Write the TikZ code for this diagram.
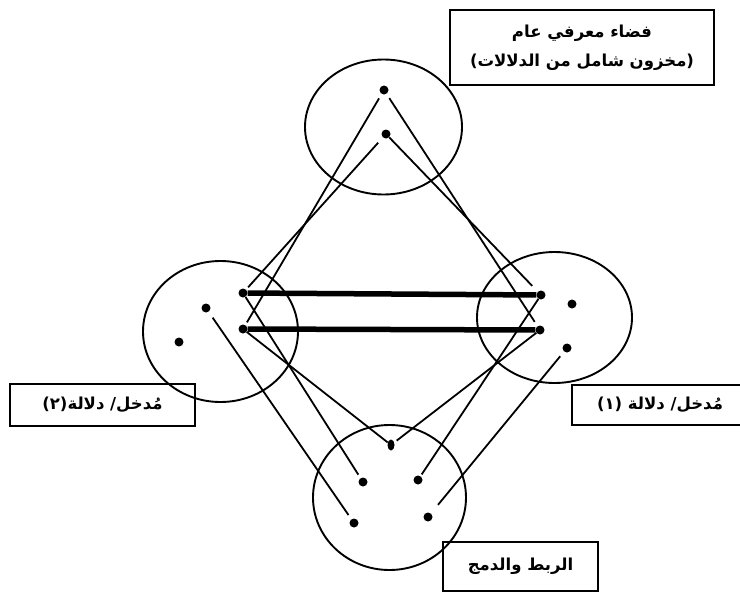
\documentclass[tikz,border=0pt]{standalone}
\usepackage{fontspec}
\usetikzlibrary{shapes.geometric}
\TeXXeTstate=1
\newfontfamily\arabicfont[Script=Arabic]{DejaVu Sans}
\newcommand{\artxt}[1]{\beginR #1\endR}

\begin{document}
\begin{tikzpicture}[x=1pt,y=-1pt,
  ring/.style={ellipse,draw,line width=1.9,inner sep=0},
  dot/.style={ellipse,fill,inner sep=0,minimum width=9,minimum height=9},
  link/.style={line width=1.8},
  bar/.style={line width=5.5},
  tag/.style={draw,line width=1.5,inner sep=0,align=center,
    font=\fontsize{16.5}{29}\selectfont\arabicfont\bfseries}]
  \useasboundingbox (0,0) rectangle (740,592);
  % circles
  \node[ring,minimum width=157,minimum height=135] (store) at (383.5,127) {};
  \node[ring,minimum width=155,minimum height=141] (entryB) at (220.5,331.5) {};
  \node[ring,minimum width=155,minimum height=131] (entryA) at (554.5,317.5) {};
  \node[ring,minimum width=153,minimum height=145] (merge) at (389.5,497.5) {};
  % dots
  \node[dot] (t1) at (384,90) {};
  \node[dot] (t2) at (386,134) {};
  \node[dot] (l1) at (243,293) {};
  \node[dot] (l2) at (243,329) {};
  \node[dot] (l3) at (206,308) {};
  \node[dot] (l4) at (179,342) {};
  \node[dot] (r1) at (541,295) {};
  \node[dot] (r2) at (540,330) {};
  \node[dot] (r3) at (572,304) {};
  \node[dot] (r4) at (567,348) {};
  \node[dot,minimum width=7,minimum height=11] (b1) at (391,445) {};
  \node[dot] (b2) at (363,482) {};
  \node[dot] (b3) at (418,480) {};
  \node[dot] (b4) at (354,523) {};
  \node[dot] (b5) at (428,517) {};
  % links
  \draw[link,shorten <=5,shorten >=3] (t1) -- (l2);
  \draw[link,shorten <=5,shorten >=5] (t1) -- (r2);
  \draw[link,shorten <=7,shorten >=3] (t2) -- (l1);
  \draw[link,shorten >=8] (t2) -- (r1);
  \draw[link,shorten <=7,shorten >=5] (l3) -- (b4);
  \draw[link,shorten >=4] (l1) -- (b2);
  \draw[link] (l2) -- (b1);
  \draw[link,shorten >=2] (r1) -- (b3);
  \draw[link,shorten >=3] (r2) -- (b1);
  \draw[link,shorten <=6,shorten >=11] (r4) -- (b5);
  \draw[bar] (l1) -- (r1);
  \draw[bar] (l2) -- (r2);
  % labels
  \node[tag,minimum width=264,minimum height=75] (storelbl) at (582,47.5)
    {\artxt{فضاء معرفي عام}\\\artxt{(مخزون شامل من الدلالات)}};
  \node[tag,minimum width=185,minimum height=42] (entryBlbl) at (102.5,405)
    {\artxt{مُدخل/ دلالة(٢)}};
  \node[tag,minimum width=176,minimum height=40] (entryAlbl) at (660,405)
    {\artxt{مُدخل/ دلالة (١)}};
  \node[tag,minimum width=155,minimum height=49] (mergelbl) at (520.5,566.5)
    {\artxt{الربط والدمج}};
\end{tikzpicture}
\end{document}
